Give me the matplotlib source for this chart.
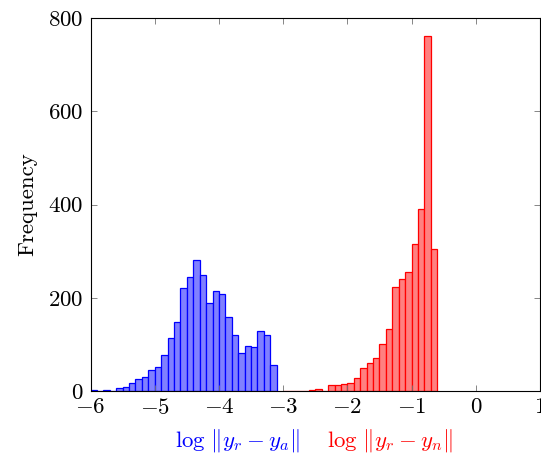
import numpy as np
import matplotlib
matplotlib.use('Agg')
import matplotlib.pyplot as plt
from matplotlib.ticker import FuncFormatter

plt.rcParams['mathtext.fontset'] = 'cm'
plt.rcParams['font.family'] = 'serif'
plt.rcParams['font.serif'] = ['cmr10', 'DejaVu Serif']
plt.rcParams['axes.formatter.use_mathtext'] = True

# histogram data, bin width 0.1
BIN_W = 0.1
blue_start = -6.0
blue_counts = [3, 0, 2, 0, 7, 9, 18, 26, 29, 45, 51, 78, 114, 149, 221, 244,
               280, 249, 189, 215, 209, 158, 121, 81, 96, 94, 129, 120, 55]
red_start = -3.0
red_counts = [1, 0, 1, 1, 2, 4, 1, 12, 12, 14, 18, 27, 49, 61, 70, 100, 132,
              222, 241, 255, 315, 391, 761, 305]

x_ticks = [-6, -5, -4, -3, -2, -1, 0, 1]
y_ticks = [0, 200, 400, 600, 800]
blue_label = r'$\log\,\|y_r - y_a\|$'
red_label = r'$\log\,\|y_r - y_n\|$'

FS = 16.5

fig = plt.figure(figsize=(5.41, 4.58), dpi=100)
ax = fig.add_axes([90.5 / 541, 1 - 391 / 458, (540 - 90.5) / 541, (391 - 18) / 458])

blue_left = blue_start + BIN_W * np.arange(len(blue_counts))
red_left = red_start + BIN_W * np.arange(len(red_counts))

ax.bar(blue_left, blue_counts, width=BIN_W, align='edge',
       facecolor='#8080ff', edgecolor='#0000ff', linewidth=0.9)
ax.bar(red_left, red_counts, width=BIN_W, align='edge',
       facecolor='#ff8080', edgecolor='#ff0000', linewidth=0.9)

ax.set_xlim(-6, 1)
ax.set_ylim(0, 800)
ax.set_xticks(x_ticks)
ax.set_yticks(y_ticks)
fmt = FuncFormatter(lambda v, p: r'$%d$' % v)
ax.xaxis.set_major_formatter(fmt)
ax.yaxis.set_major_formatter(fmt)
ax.tick_params(direction='in', length=4.5, width=0.6, color='0.45',
               labelsize=FS, top=True, right=True, pad=5)
for s in ax.spines.values():
    s.set_linewidth(0.8)
ax.set_ylabel('Frequency', fontsize=FS, labelpad=8)

fig.text(237 / 541, 1 - 441 / 458, blue_label, color='#0000ff',
         fontsize=FS, ha='center', va='center')
fig.text(390 / 541, 1 - 441 / 458, red_label, color='#ff0000',
         fontsize=FS, ha='center', va='center')

fig.savefig('out.png', dpi=100)
